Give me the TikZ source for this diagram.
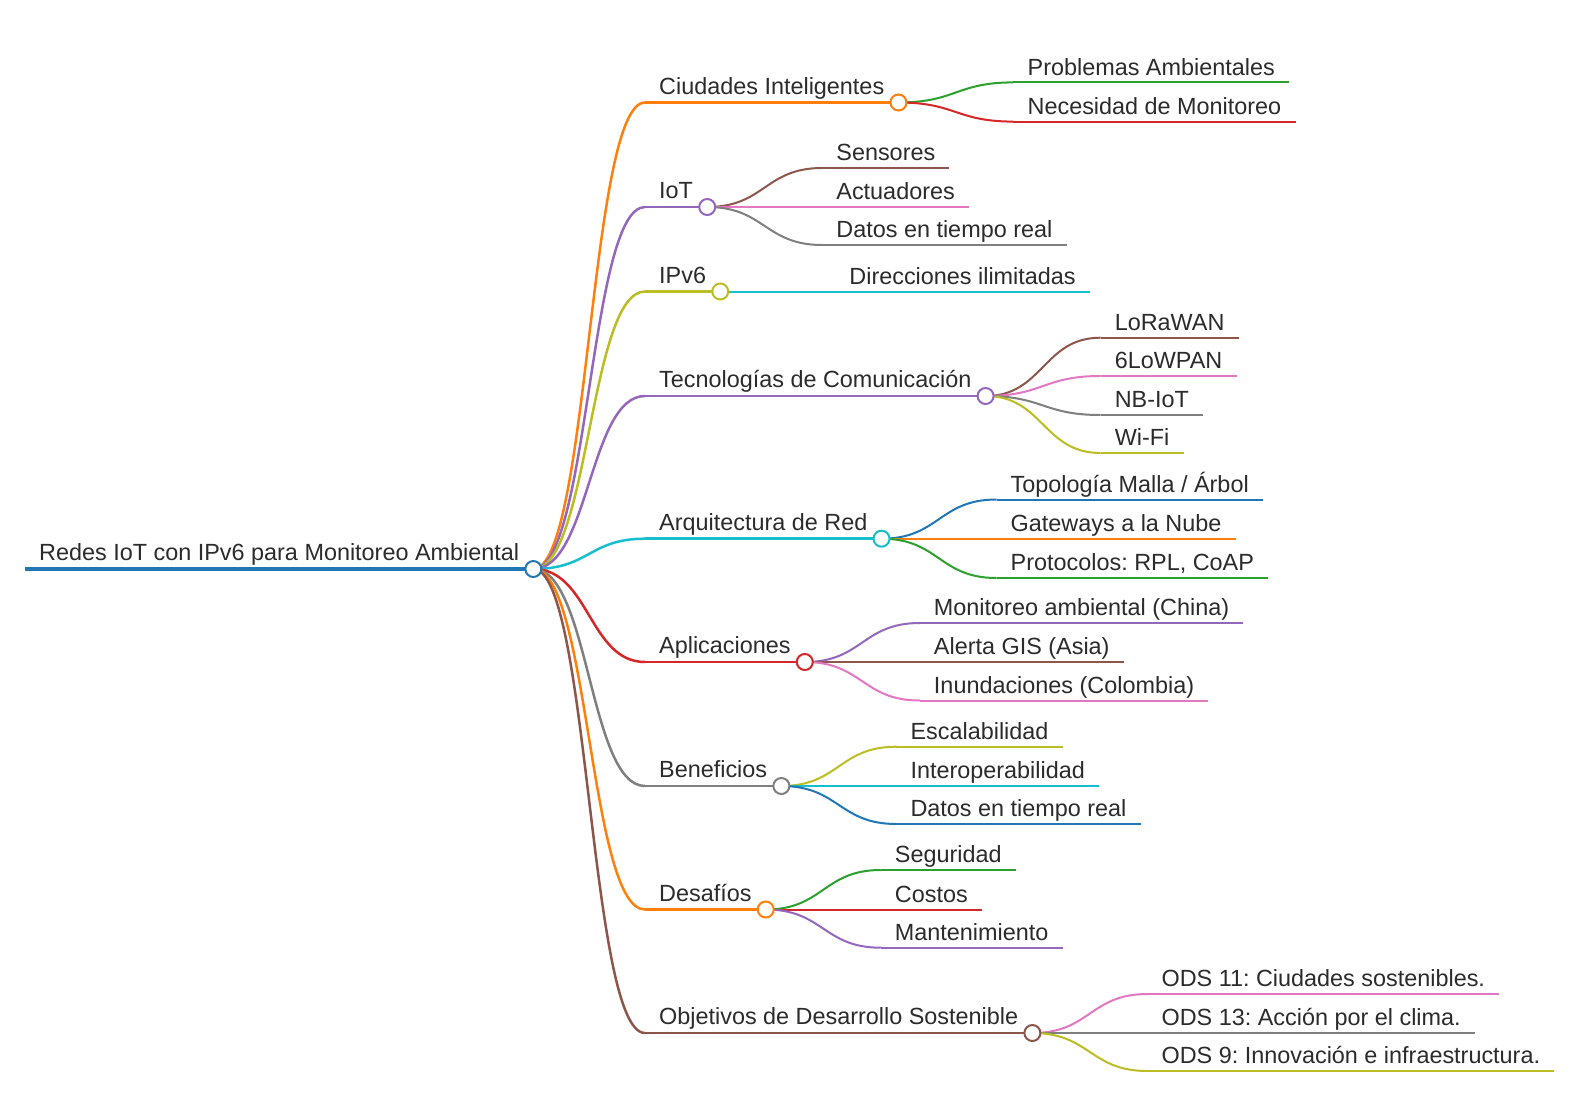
\documentclass[tikz,border=0pt]{standalone}
\usepackage{fontspec}
\setmainfont{Liberation Sans}
\usetikzlibrary{calc}
\frenchspacing

\definecolor{mmblue}{HTML}{1F77B4}
\definecolor{mmorange}{HTML}{FF7F0E}
\definecolor{mmgreen}{HTML}{2CA02C}
\definecolor{mmred}{HTML}{D62728}
\definecolor{mmpurple}{HTML}{9467BD}
\definecolor{mmbrown}{HTML}{8C564B}
\definecolor{mmpink}{HTML}{E377C2}
\definecolor{mmgray}{HTML}{7F7F7F}
\definecolor{mmolive}{HTML}{BCBD22}
\definecolor{mmcyan}{HTML}{17BECF}
\definecolor{mmink}{HTML}{2B2B2B}

\tikzset{
  mmtext/.style={font=\fontsize{23.4}{28}\selectfont, text=mmink, inner sep=0pt, anchor=base west},
  mmdotstyle/.style={circle, fill=white, line width=2pt, minimum size=16pt, inner sep=0pt},
}

% a node with its underline: name, colour, line width, start x, line y, label
\newcommand{\mmnode}[6]{%
  \coordinate (#1-s) at (#4,#5);
  \node[mmtext] (#1) at (#4+14,#5-8.2) {#6};
  \coordinate (#1-e) at ($(#1.east |- #1-s)+(14,0)$);
  \draw[#2, line width=#3] (#1-s) -- (#1-e);
}
% a child placed 115 units right of its parent's end: name, parent, colour, width, line y, label
\newcommand{\mmchild}[6]{%
  \coordinate (#1-s) at ($(#2-e |- 0,#5)+(115,0)$);
  \node[mmtext] (#1) at ($(#1-s)+(14,-7.2)$) {#6};
  \coordinate (#1-e) at ($(#1.east |- #1-s)+(14,0)$);
  \draw[#3, line width=#4] (#1-s) -- (#1-e);
  \mmlink{#3}{#4}{#2-e}{#1-s}
}
% horizontal S-curve from one end point to the next start point
\newcommand{\mmlink}[4]{%
  \draw[#1, line width=#2] let \p1=(#3), \p2=(#4) in
    (\p1) .. controls ({(\x1+\x2)/2},\y1) and ({(\x1+\x2)/2},\y2) .. (\p2);
}
\newcommand{\mmdot}[2]{%
  \node[mmdotstyle, draw=#2] (#1-dot) at (#1-e) {};
}

\begin{document}
\begin{tikzpicture}[x=1pt,y=-1pt]
\useasboundingbox (0,0) rectangle (1576,1108);
\fill[white] (0,0) rectangle (1576,1108);

% root
\mmnode{root}{mmblue}{3.5}{25}{569}{Redes IoT con IPv6 para Monitoreo Ambiental}

% first level
\mmnode{ciu}{mmorange}{2.5}{645}{102.5}{Ciudades Inteligentes}
\mmnode{iot}{mmpurple}{2.5}{645}{207}{IoT}
\mmnode{ipv}{mmolive}{2.5}{645}{291.5}{IPv6}
\mmnode{tec}{mmpurple}{2.5}{645}{396}{Tecnologías de Comunicación}
\mmnode{arq}{mmcyan}{2.5}{645}{538.7}{Arquitectura de Red}
\mmnode{apl}{mmred}{2.5}{645}{662}{Aplicaciones}
\mmnode{ben}{mmgray}{2.5}{645}{786}{Beneficios}
\mmnode{des}{mmorange}{2.5}{645}{909.5}{Desafíos}
\mmnode{ods}{mmbrown}{2.5}{645}{1033}{Objetivos de Desarrollo Sostenible}

\mmlink{mmorange}{2.5}{root-e}{ciu-s}
\mmlink{mmpurple}{2.5}{root-e}{iot-s}
\mmlink{mmolive}{2.5}{root-e}{ipv-s}
\mmlink{mmpurple}{2.5}{root-e}{tec-s}
\mmlink{mmcyan}{2.5}{root-e}{arq-s}
\mmlink{mmred}{2.5}{root-e}{apl-s}
\mmlink{mmgray}{2.5}{root-e}{ben-s}
\mmlink{mmorange}{2.5}{root-e}{des-s}
\mmlink{mmbrown}{2.5}{root-e}{ods-s}

% second level
\mmchild{ciu1}{ciu}{mmgreen}{2}{82.4}{Problemas Ambientales}
\mmchild{ciu2}{ciu}{mmred}{2}{121.6}{Necesidad de Monitoreo}

\mmchild{iot1}{iot}{mmbrown}{2}{168}{Sensores}
\mmchild{iot2}{iot}{mmpink}{2}{207}{Actuadores}
\mmchild{iot3}{iot}{mmgray}{2}{245}{Datos en tiempo real}

\mmchild{ipv1}{ipv}{mmcyan}{2}{291.5}{Direcciones ilimitadas}

\mmchild{tec1}{tec}{mmbrown}{2}{337.7}{LoRaWAN}
\mmchild{tec2}{tec}{mmpink}{2}{376}{6LoWPAN}
\mmchild{tec3}{tec}{mmgray}{2}{415}{NB-IoT}
\mmchild{tec4}{tec}{mmolive}{2}{453}{Wi-Fi}

\mmchild{arq1}{arq}{mmblue}{2}{499.5}{Topología Malla / Árbol}
\mmchild{arq2}{arq}{mmorange}{2}{538.7}{Gateways a la Nube}
\mmchild{arq3}{arq}{mmgreen}{2}{578}{Protocolos: RPL, CoAP}

\mmchild{apl1}{apl}{mmpurple}{2}{623}{Monitoreo ambiental (China)}
\mmchild{apl2}{apl}{mmbrown}{2}{662}{Alerta GIS (Asia)}
\mmchild{apl3}{apl}{mmpink}{2}{700.5}{Inundaciones (Colombia)}

\mmchild{ben1}{ben}{mmolive}{2}{746.7}{Escalabilidad}
\mmchild{ben2}{ben}{mmcyan}{2}{786}{Interoperabilidad}
\mmchild{ben3}{ben}{mmblue}{2}{824}{Datos en tiempo real}

\mmchild{des1}{des}{mmgreen}{2}{870}{Seguridad}
\mmchild{des2}{des}{mmred}{2}{909.5}{Costos}
\mmchild{des3}{des}{mmpurple}{2}{947.7}{Mantenimiento}

\mmchild{ods1}{ods}{mmpink}{2}{994}{ODS 11: Ciudades sostenibles.}
\mmchild{ods2}{ods}{mmgray}{2}{1033}{ODS 13: Acción por el clima.}
\mmchild{ods3}{ods}{mmolive}{2}{1071}{ODS 9: Innovación e infraestructura.}

% branch points
\mmdot{root}{mmblue}
\mmdot{ciu}{mmorange}
\mmdot{iot}{mmpurple}
\mmdot{ipv}{mmolive}
\mmdot{tec}{mmpurple}
\mmdot{arq}{mmcyan}
\mmdot{apl}{mmred}
\mmdot{ben}{mmgray}
\mmdot{des}{mmorange}
\mmdot{ods}{mmbrown}
\end{tikzpicture}
\end{document}
